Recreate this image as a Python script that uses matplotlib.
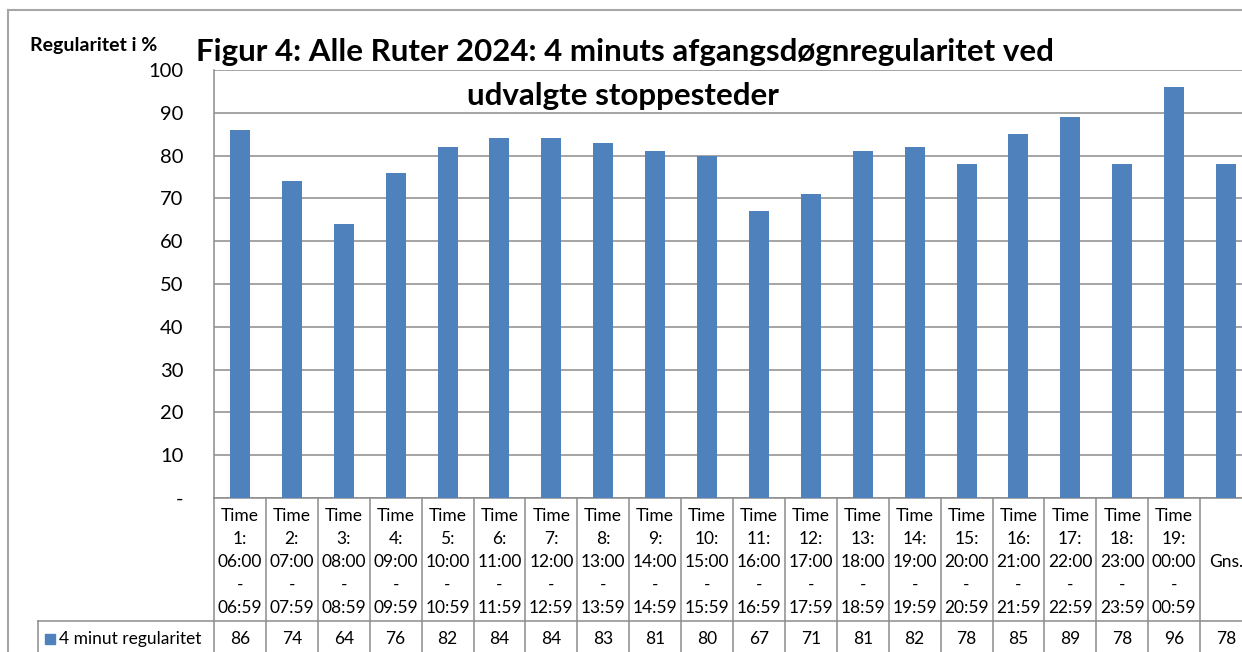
import matplotlib.pyplot as plt
import matplotlib.transforms as mtransforms

# data
starts = ["06:00", "07:00", "08:00", "09:00", "10:00", "11:00", "12:00", "13:00", "14:00", "15:00",
          "16:00", "17:00", "18:00", "19:00", "20:00", "21:00", "22:00", "23:00", "00:00"]
ends = ["06:59", "07:59", "08:59", "09:59", "10:59", "11:59", "12:59", "13:59", "14:59", "15:59",
        "16:59", "17:59", "18:59", "19:59", "20:59", "21:59", "22:59", "23:59", "00:59"]
values = [86, 74, 64, 76, 82, 84, 84, 83, 81, 80, 67, 71, 81, 82, 78, 85, 89, 78, 96, 78]
series_name = "4 minut regularitet"
y_ticks = [0, 10, 20, 30, 40, 50, 60, 70, 80, 90, 100]
y_tick_labels = ["-", "10", "20", "30", "40", "50", "60", "70", "80", "90", "100"]

categories = [["Time", f"{i + 1}:", s, "-", e] for i, (s, e) in enumerate(zip(starts, ends))]
categories.append(["Gns."])

W, H = 1242, 652
BLUE = "#4F81BD"
GRID = "#8C8C8C"
FONT = "Lato"
TFS = 12.5

fig = plt.figure(figsize=(W / 100, H / 100), dpi=100)


def fy(y):
    return 1 - y / H


ax = fig.add_axes([214 / W, fy(498), (1252 - 214) / W, (498 - 70) / H])
x = list(range(len(values)))
ax.bar(x, values, width=0.385, color=BLUE, zorder=3)
ax.set_xlim(-0.5, len(values) - 0.5)
ax.set_ylim(0, 100)
ax.set_yticks(y_ticks)
ax.set_yticklabels(y_tick_labels, fontsize=14.5, family=FONT)
ax.tick_params(axis="y", length=0, pad=22)
ax.set_xticks([])
ax.grid(axis="y", color=GRID, linewidth=1.1, zorder=0)
for s in ["top", "right", "bottom"]:
    ax.spines[s].set_visible(False)
ax.spines["left"].set_color(GRID)
ax.spines["left"].set_linewidth(1.1)

# data table below the axis
tr = mtransforms.blended_transform_factory(ax.transData, fig.transFigure)
for i in range(len(values) + 1):
    ax.plot([i - 0.5, i - 0.5], [fy(498), fy(660)], color=GRID, lw=1.1,
            transform=tr, clip_on=False)
ax.plot([-0.5, len(values) - 0.5], [fy(498), fy(498)], color=GRID, lw=1.1,
        transform=tr, clip_on=False)
fig.add_artist(plt.Line2D([38 / W, 1.0], [fy(621), fy(621)], color=GRID, lw=1.1))
fig.add_artist(plt.Line2D([38 / W, 38 / W], [fy(621), 0], color=GRID, lw=1.1))

for i, lines in enumerate(categories):
    if len(lines) == 1:
        ax.text(i, fy(562), lines[0], transform=tr, ha="center", va="center",
                fontsize=TFS, family=FONT, clip_on=False)
        continue
    for k, t in enumerate(lines):
        ax.text(i, fy(516 + 23 * k), t, transform=tr, ha="center", va="center",
                fontsize=TFS, family=FONT, clip_on=False)

for i, v in enumerate(values):
    ax.text(i, fy(639), str(v), transform=tr, ha="center", va="center",
            fontsize=TFS, family=FONT, clip_on=False)

fig.add_artist(plt.Rectangle((45 / W, fy(644)), 10 / W, 10 / H, color=BLUE))
fig.text(59 / W, fy(639), series_name, ha="left", va="center", fontsize=TFS, family=FONT)

# outer chart frame
fig.add_artist(plt.Line2D([8 / W, 1.0], [fy(10), fy(10)], color="#A6A6A6", lw=1.5))
fig.add_artist(plt.Line2D([8 / W, 8 / W], [fy(10), 0], color="#A6A6A6", lw=1.5))

# titles
fig.text(30 / W, fy(46), "Regularitet i %", ha="left", va="center",
         fontsize=14, fontweight="bold", family=FONT)
fig.text(625 / W, fy(52), "Figur 4: Alle Ruter 2024: 4 minuts afgangsdøgnregularitet ved",
         ha="center", va="center", fontsize=22.5, fontweight="bold", family=FONT)
fig.text(623 / W, fy(96), "udvalgte stoppesteder",
         ha="center", va="center", fontsize=22.5, fontweight="bold", family=FONT)

fig.savefig("out.png", dpi=100)
